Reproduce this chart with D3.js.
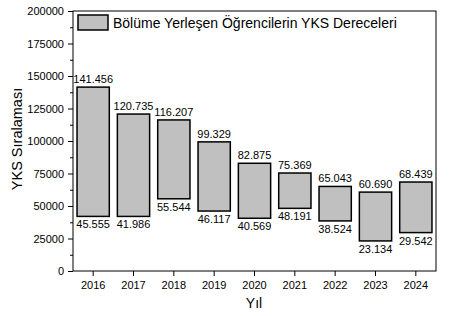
<!DOCTYPE html>
<html>
<head>
<meta charset="utf-8">
<script src="https://cdn.jsdelivr.net/npm/d3@7"></script>
<style>
  body { margin: 0; background: #fff; }
  text { font-family: "Liberation Sans", Arial, sans-serif; fill: #000; }
</style>
</head>
<body>
<div id="chart"></div>
<script>
const years = ["2016", "2017", "2018", "2019", "2020", "2021", "2022", "2023", "2024"];
// top and bottom of each floating bar, as drawn
const highs = [141456, 120735, 116207, 99329, 82875, 75369, 65043, 60690, 68439];
const lows = [42000, 41986, 55544, 46117, 40569, 48191, 38524, 23134, 29542];
// texts written on the bars
const highLabels = ["141.456", "120.735", "116.207", "99.329", "82.875", "75.369", "65.043", "60.690", "68.439"];
const lowLabels = ["45.555", "41.986", "55.544", "46.117", "40.569", "48.191", "38.524", "23.134", "29.542"];
const yTicks = [0, 25000, 50000, 75000, 100000, 125000, 150000, 175000, 200000];
const legendLabel = "Bölüme Yerleşen Öğrencilerin YKS Dereceleri";

const width = 449, height = 316;
const margin = {top: 11, right: 13, bottom: 45, left: 73};
const innerW = width - margin.left - margin.right,
      innerH = height - margin.top - margin.bottom;

const svg = d3.select("#chart").append("svg")
  .attr("width", width)
  .attr("height", height);

const g = svg.append("g")
  .attr("transform", "translate(" + margin.left + "," + margin.top + ")");

const x = d3.scaleBand().domain(years).range([0, innerW]).paddingInner(0.2).paddingOuter(0.1);
const y = d3.scaleLinear().domain([0, 200000]).range([innerH, 0]);

// bars
g.selectAll("rect.bar")
  .data(years)
  .join("rect")
    .attr("class", "bar")
    .attr("x", d => x(d))
    .attr("width", x.bandwidth())
    .attr("y", (d, i) => y(highs[i]))
    .attr("height", (d, i) => y(lows[i]) - y(highs[i]))
    .attr("fill", "#c0c0c0")
    .attr("stroke", "#000")
    .attr("stroke-width", 1.5);

g.selectAll("text.hi")
  .data(years)
  .join("text")
    .attr("class", "hi")
    .attr("x", d => x(d) + x.bandwidth() / 2)
    .attr("y", (d, i) => y(highs[i]) - 4)
    .attr("text-anchor", "middle")
    .attr("font-size", 11)
    .text((d, i) => highLabels[i]);

g.selectAll("text.lo")
  .data(years)
  .join("text")
    .attr("class", "lo")
    .attr("x", d => x(d) + x.bandwidth() / 2)
    .attr("y", (d, i) => y(lows[i]) + 12)
    .attr("text-anchor", "middle")
    .attr("font-size", 11)
    .text((d, i) => lowLabels[i]);

// frame
g.append("rect")
  .attr("width", innerW)
  .attr("height", innerH)
  .attr("fill", "none")
  .attr("stroke", "#000")
  .attr("stroke-width", 1);

// y axis
const yAxis = g.append("g")
  .call(d3.axisLeft(y).tickValues(yTicks).tickSize(5).tickPadding(4).tickFormat(d3.format("d")));
yAxis.select(".domain").remove();
yAxis.selectAll("text").attr("font-size", 11).style("font-family", "Liberation Sans, Arial, sans-serif");

const yMinor = g.append("g")
  .call(d3.axisLeft(y).tickValues(d3.range(12500, 200000, 25000)).tickSize(3).tickFormat(""));
yMinor.select(".domain").remove();

// x axis
const xAxis = g.append("g")
  .attr("transform", "translate(0," + innerH + ")")
  .call(d3.axisBottom(x).tickSize(5).tickPadding(5));
xAxis.select(".domain").remove();
xAxis.selectAll("text").attr("font-size", 11).style("font-family", "Liberation Sans, Arial, sans-serif");

// axis titles
svg.append("text")
  .attr("transform", "translate(22,139) rotate(-90)")
  .attr("text-anchor", "middle")
  .attr("font-size", 14.5)
  .text("YKS Sıralaması");

svg.append("text")
  .attr("x", 254)
  .attr("y", 308)
  .attr("text-anchor", "middle")
  .attr("font-size", 14)
  .text("Yıl");

// legend
const legend = g.append("g").attr("transform", "translate(5,4)");
legend.append("rect")
  .attr("width", 30)
  .attr("height", 15)
  .attr("fill", "#c0c0c0")
  .attr("stroke", "#000")
  .attr("stroke-width", 1.5);
legend.append("text")
  .attr("x", 35)
  .attr("y", 13)
  .attr("font-size", 14)
  .text(legendLabel);
</script>
</body>
</html>
